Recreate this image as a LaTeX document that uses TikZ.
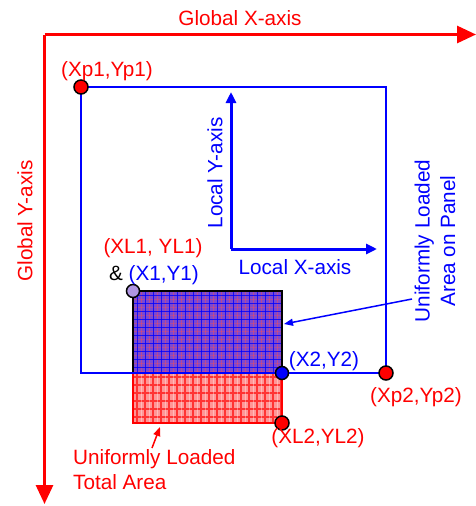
\documentclass[tikz,border=0pt]{standalone}
\usepackage{fontspec}
\setmainfont{Liberation Sans}
\usetikzlibrary{arrows.meta}
\definecolor{pred}{RGB}{255,0,0}
\definecolor{pblue}{RGB}{0,0,255}
\definecolor{lavender}{RGB}{176,150,226}
\definecolor{loadblue}{RGB}{124,72,210}
\definecolor{loadred}{RGB}{255,150,150}
\begin{document}
\begin{tikzpicture}[x=1pt,y=-1pt,
  lbl/.style={font=\fontsize{20.7}{25.5}\selectfont, inner sep=0pt},
  dot/.style={circle, draw=black, line width=1.5pt, minimum size=14pt, inner sep=0pt},
  gaxis/.style={pred, line width=3pt, -{Triangle[length=19pt,width=17pt]}},
  laxis/.style={pblue, line width=3pt, -{Triangle[length=11pt,width=10pt]}},
  pointer/.style={line width=1.5pt, -{Triangle[length=9pt,width=7pt]}}]
\useasboundingbox (0,0) rectangle (476,506);

% corner coordinates
\coordinate (o) at (44.5,34.5);
\coordinate (xend) at (476,34.5);
\coordinate (yend) at (44.5,504);
\coordinate (p1) at (81,87);
\coordinate (p2) at (386,373);
\coordinate (q1) at (133,291);
\coordinate (q2) at (282,373);
\coordinate (r2) at (282,423);
\coordinate (lo) at (231,249);
\coordinate (lx) at (377,249);
\coordinate (ly) at (231,92);

% uniformly loaded total area (part outside the panel)
\fill[loadred] (133,373) rectangle (r2);
\begin{scope}
  \clip (133,373) rectangle (r2);
  \foreach \x in {137,145,...,285} \draw[pred!80, line width=1.2pt] (\x,370) -- (\x,426);
  \foreach \y in {377,385,...,425} \draw[pred!80, line width=1.2pt] (130,\y) -- (285,\y);
  \foreach \x in {141,149,...,285} \draw[white, opacity=0.35, line width=1pt] (\x,370) -- (\x,426);
\end{scope}
\draw[pred, line width=1.5pt] (133,373) rectangle (r2);

% uniformly loaded area on the panel
\fill[loadblue] (q1) rectangle (q2);
\begin{scope}
  \clip (q1) rectangle (q2);
  \foreach \x in {141,149,...,285} \draw[pred!70, opacity=0.45, line width=1pt] (\x,288) -- (\x,376);
  \foreach \y in {299,307,...,375} \draw[pred!70, opacity=0.35, line width=1pt] (130,\y) -- (285,\y);
  \foreach \x in {137,145,...,285} \draw[pblue, opacity=0.8, line width=0.9pt] (\x,288) -- (\x,376);
  \foreach \y in {295,303,...,375} \draw[pblue, opacity=0.8, line width=0.9pt] (130,\y) -- (285,\y);
\end{scope}
\draw[black, line width=1.5pt] (q1) rectangle (q2);

% panel outline
\draw[pblue, line width=1.6pt] (p1) rectangle (p2);

% global axes
\draw[gaxis] (o) -- (xend);
\draw[gaxis] (o) -- (yend);
\node[lbl, pred] (gx) at (240,18) {Global X-axis};
\node[lbl, pred, rotate=90] (gy) at (25,221) {Global Y-axis};

% local axes
\draw[laxis] (lo) -- (lx);
\draw[laxis] (lo) -- (ly);
\node[lbl, pblue, rotate=90] (ly-lab) at (215,173) {Local Y-axis};
\node[lbl, pblue] (lx-lab) at (295,267) {Local X-axis};

% corner points
\node[dot, fill=pred] (d-p1) at (p1) {};
\node[dot, fill=pred] (d-p2) at (p2) {};
\node[dot, fill=lavender, minimum size=13pt] (d-q1) at (q1) {};
\node[dot, fill=pblue, minimum size=13pt] (d-q2) at (q2) {};
\node[dot, fill=pred] (d-r2) at (r2) {};

% point labels
\node[lbl, pred] (t-p1) at (107,71) {(Xp1,Yp1)};
\node[lbl, pred] (t-p2) at (416,397) {(Xp2,Yp2)};
\node[lbl, pred] (t-l1) at (153,248) {(XL1, YL1)};
\node[lbl] (t-q1) at (154,275) {\& \textcolor{pblue}{(X1,Y1)}};
\node[lbl, pblue] (t-q2) at (324,361) {(X2,Y2)};
\node[lbl, pred] (t-r2) at (318,438) {(XL2,YL2)};

% area labels and pointers
\node[lbl, pblue, rotate=90, align=center] (t-panel) at (435,241) {Uniformly Loaded\\Area on Panel};
\coordinate (bp) at (412,299);
\coordinate (bt) at (284,324);
\draw[pointer, pblue] (bp) -- (bt);
\node[lbl, pred, align=left, anchor=north west] (t-total) at (73,449) {Uniformly Loaded\\Total Area};
\coordinate (rp) at (152,448);
\coordinate (rt) at (160,427);
\draw[pointer, pred] (rp) -- (rt);
\end{tikzpicture}
\end{document}
